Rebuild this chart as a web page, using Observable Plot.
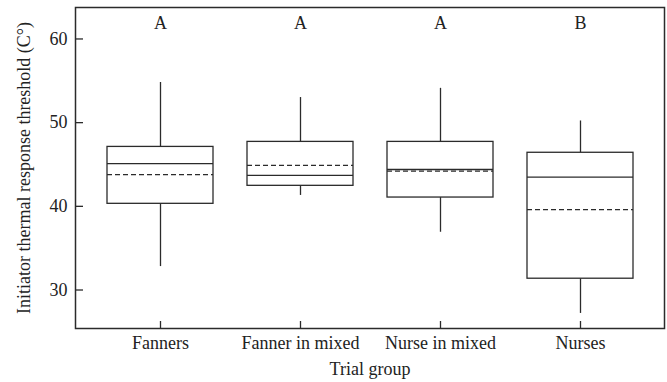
<!DOCTYPE html>
<html>
<head>
<meta charset="utf-8">
<script src="https://cdn.jsdelivr.net/npm/d3@7"></script>
<script src="https://cdn.jsdelivr.net/npm/@observablehq/plot@0.6"></script>
<style>
  html, body { margin: 0; padding: 0; background: #fff; }
</style>
</head>
<body>
<div id="chart"></div>
<script>
const groups = ["Fanners", "Fanner in mixed", "Nurse in mixed", "Nurses"];
const whiskerLow = [32.8, 41.3, 36.9, 27.2];
const q1 = [40.3, 42.45, 41.05, 31.35];
const median = [45.1, 43.7, 44.4, 43.5];
const mean = [43.8, 44.9, 44.2, 39.6];
const q3 = [47.1, 47.7, 47.7, 46.4];
const whiskerHigh = [54.8, 53.0, 54.1, 50.2];
const letters = ["A", "A", "A", "B"];
const yTicks = [30, 40, 50, 60];

const data = groups.map((g, i) => ({
  group: g, low: whiskerLow[i], q1: q1[i], median: median[i],
  mean: mean[i], q3: q3[i], high: whiskerHigh[i], letter: letters[i]
}));

const ink = "#2b2b2b";
const sw = 1.3;

const chart = Plot.plot({
  width: 667,
  height: 382,
  marginLeft: 75,
  marginRight: 3,
  marginTop: 7,
  marginBottom: 54,
  style: { fontFamily: "'Liberation Serif', 'Times New Roman', serif", fontSize: "18px", color: "#222", background: "#fff" },
  x: { domain: groups, range: [90, 650], paddingInner: 0.243, paddingOuter: 0.1215, align: 0.5 },
  y: { domain: [25.4, 63.76] },
  marks: [
    Plot.frame({ stroke: ink, strokeWidth: 1.5 }),
    Plot.ruleX(data, { x: "group", y1: "low", y2: "q1", stroke: ink, strokeWidth: sw }),
    Plot.ruleX(data, { x: "group", y1: "q3", y2: "high", stroke: ink, strokeWidth: sw }),
    Plot.barY(data, { x: "group", y1: "q1", y2: "q3", fill: "#fff", stroke: ink, strokeWidth: sw }),
    Plot.tickY(data, { x: "group", y: "median", stroke: ink, strokeWidth: sw }),
    Plot.tickY(data, { x: "group", y: "mean", stroke: ink, strokeWidth: sw, strokeDasharray: "5,3" }),
    Plot.text(data, { x: "group", text: "letter", frameAnchor: "top", lineAnchor: "top", dy: 9, fill: "#222" }),
    Plot.axisY(yTicks, { anchor: "left", tickSize: -8, tickPadding: 16, stroke: ink, strokeWidth: sw,
      label: "Initiator thermal response threshold (C°)", labelAnchor: "center", labelArrow: "none", labelOffset: 58 }),
    Plot.axisX(groups, { anchor: "bottom", tickSize: -7, tickPadding: 15, stroke: ink, strokeWidth: sw,
      label: "Trial group", labelAnchor: "center", labelArrow: "none", labelOffset: 46 })
  ]
});
document.getElementById("chart").appendChild(chart);
</script>
</body>
</html>
